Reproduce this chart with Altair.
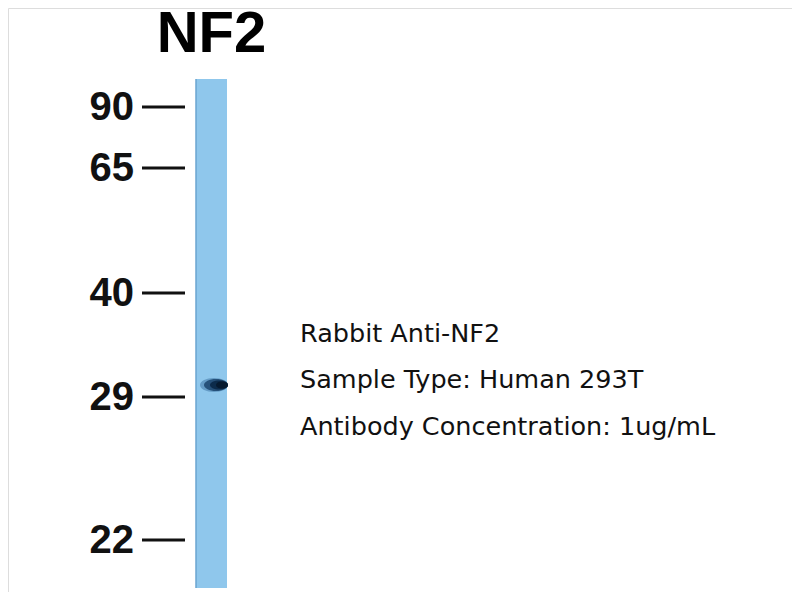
import altair as alt
import pandas as pd

# Western blot: NF2, Human 293T lysate
# positions are read off the figure in screen pixels (x to the right, migration downwards)
title_text = ["NF2"]
marker_kda = ["90", "65", "40", "29", "22"]
marker_migration = [107, 168, 293, 397, 540]
lane_left = [196]
lane_right = [227]
gel_top = [79]
gel_bottom = [588]
band_lane_x = [214]
band_migration = [385]
notes = ["Rabbit Anti-NF2", "Sample Type: Human 293T", "Antibody Concentration: 1ug/mL"]
note_baseline = [342, 388, 435]

X_SCALE = alt.Scale(domain=[8, 792], nice=False, zero=False)
Y_SCALE = alt.Scale(domain=[8, 592], nice=False, zero=False, reverse=True)


def xq(field):
    return alt.X(f"{field}:Q", scale=X_SCALE, axis=None)


def yq(field):
    return alt.Y(f"{field}:Q", scale=Y_SCALE, axis=None)


def ellipse(ry):
    return f"M-1,0 A1,{ry} 0 1,0 1,0 A1,{ry} 0 1,0 -1,0 Z"


def band_layer(dx, width, ry, color, opacity):
    return (
        alt.Chart(band_df)
        .transform_calculate(xc=f"datum.x + {dx}")
        .mark_point(shape=ellipse(ry), filled=True, size=width * width,
                    color=color, opacity=opacity, strokeWidth=0)
        .encode(x=xq("xc"), y=yq("y"))
    )


lane_df = pd.DataFrame({"x0": lane_left, "x1": lane_right, "y0": gel_top, "y1": gel_bottom})
markers_df = pd.DataFrame({"kda": marker_kda, "y": marker_migration})
markers_df["x0"] = lane_df["x0"][0] - 54
markers_df["x1"] = lane_df["x0"][0] - 11
markers_df["lx"] = lane_df["x0"][0] - 62
band_df = pd.DataFrame({"x": band_lane_x, "y": band_migration})
notes_df = pd.DataFrame({"text": notes, "y": note_baseline})
notes_df["x"] = 300
title_df = pd.DataFrame({"text": title_text})
title_df["x"] = (lane_df["x0"] + lane_df["x1"]) / 2
title_df["y"] = 52

lane = alt.Chart(lane_df).mark_rect(color="#8fc7ec").encode(
    x=xq("x0"), x2="x1", y=yq("y0"), y2="y1"
)
lane_edge = alt.Chart(lane_df).mark_rule(color="#6aa5d0", strokeWidth=1.5).encode(
    x=xq("x0"), y=yq("y0"), y2="y1"
)

# the band: a smeared blob, darkest towards the right side of the lane
band = [
    band_layer(0, 28, 0.5, "#3a6fa0", 0.5),
    band_layer(2, 24, 0.5, "#163e66", 0.8),
    band_layer(5, 18, 0.5, "#0a2746", 0.9),
    band_layer(8, 12, 0.6, "#061a30", 1.0),
]

ticks = alt.Chart(markers_df).mark_rule(color="#111111", strokeWidth=3).encode(
    x=xq("x0"), x2="x1", y=yq("y")
)
tick_labels = alt.Chart(markers_df).mark_text(
    align="right", baseline="alphabetic", dy=13, font="Liberation Sans",
    fontWeight="bold", fontSize=40, color="#111111"
).encode(x=xq("lx"), y=yq("y"), text="kda:N")

title = alt.Chart(title_df).mark_text(
    align="center", baseline="alphabetic", font="Liberation Sans",
    fontWeight="bold", fontSize=58, color="#000000"
).encode(x=xq("x"), y=yq("y"), text="text:N")

note_text = alt.Chart(notes_df).mark_text(
    align="left", baseline="alphabetic", font="DejaVu Sans",
    fontSize=25.5, color="#111111"
).encode(x=xq("x"), y=yq("y"), text="text:N")

chart = (
    alt.layer(lane, lane_edge, *band, ticks, tick_labels, title, note_text)
    .properties(width=784, height=584, padding=0, autosize=alt.AutoSizeParams(type="none"))
    .configure_view(stroke="transparent", strokeWidth=0)
    .configure(background="#ffffff")
)

chart.save("out.html", embed_options={"renderer": "svg", "actions": False})
